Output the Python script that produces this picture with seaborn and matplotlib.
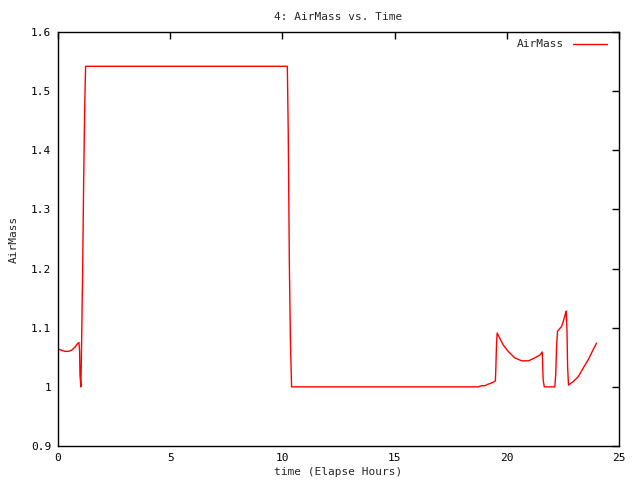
import matplotlib
matplotlib.use("Agg")
import matplotlib.pyplot as plt
import seaborn as sns
import pandas as pd

time_hours = [0.0, 0.31, 0.46, 0.61, 0.75, 0.87, 0.93, 0.96, 0.98, 1.02, 1.05, 1.10, 1.14, 1.19, 1.23,
              10.22, 10.26, 10.31, 10.36, 10.41,
              18.73, 18.88, 19.03, 19.13, 19.28, 19.40, 19.49, 19.51, 19.54, 19.57,
              19.69, 19.84, 20.06, 20.36, 20.66, 20.96, 21.25, 21.48, 21.58, 21.62, 21.67,
              22.14, 22.18, 22.22, 22.26, 22.44, 22.52, 22.60, 22.65, 22.68, 22.71, 22.75,
              22.96, 23.18, 23.41, 23.63, 23.85, 24.0]
airmass = [1.064, 1.060, 1.060, 1.062, 1.067, 1.073, 1.075, 1.063, 1.020, 1.000, 1.068, 1.202, 1.337, 1.473, 1.542,
           1.542, 1.431, 1.207, 1.071, 1.000,
           1.000, 1.002, 1.002, 1.004, 1.006, 1.008, 1.010, 1.029, 1.070, 1.091,
           1.082, 1.071, 1.060, 1.049, 1.044, 1.044, 1.049, 1.054, 1.059, 1.012, 1.000,
           1.000, 1.021, 1.069, 1.094, 1.102, 1.111, 1.122, 1.128, 1.097, 1.034, 1.003,
           1.009, 1.017, 1.032, 1.046, 1.063, 1.074]

df = pd.DataFrame({"time": time_hours, "AirMass": airmass})

sns.set_style("white")
plt.rcParams["font.family"] = ["DejaVu Sans Mono"]

fig = plt.figure(figsize=(6.4, 4.8), dpi=100)
L, R, T, B = 58, 619, 32, 446
ax = fig.add_axes([L/640, 1 - B/480, (R - L)/640, (B - T)/480])

sns.lineplot(data=df, x="time", y="AirMass", ax=ax, color="red", linewidth=1,
             sort=False, estimator=None, label="AirMass")

ax.set_xlim(0, 25)
ax.set_ylim(0.9, 1.6)
ax.set_xticks([0, 5, 10, 15, 20, 25])
ax.set_xticklabels(["0", "5", "10", "15", "20", "25"])
ax.set_yticks([0.9, 1.0, 1.1, 1.2, 1.3, 1.4, 1.5, 1.6])
ax.set_yticklabels(["0.9", "1", "1.1", "1.2", "1.3", "1.4", "1.5", "1.6"])
ax.tick_params(direction="in", length=5, width=1, top=True, right=True,
               labelsize=8, colors="black", pad=5)
for s in ax.spines.values():
    s.set_color("black")
    s.set_linewidth(1)
    s.set_visible(True)

ax.set_xlabel("time (Elapse Hours)", fontsize=8, labelpad=3)
ax.set_ylabel("AirMass", fontsize=8, labelpad=9)
ax.set_title("4: AirMass vs. Time", fontsize=8, pad=9)

anchor_x = (607 + 4.4 - L) / (R - L)
anchor_y = 1 - 3 / (B - T)
leg = ax.legend(loc="upper right", bbox_to_anchor=(anchor_x, anchor_y), frameon=False,
                markerfirst=False, fontsize=8, handlelength=3.1, handletextpad=0.8,
                borderaxespad=0.0)

fig.savefig("out.png", dpi=100)
